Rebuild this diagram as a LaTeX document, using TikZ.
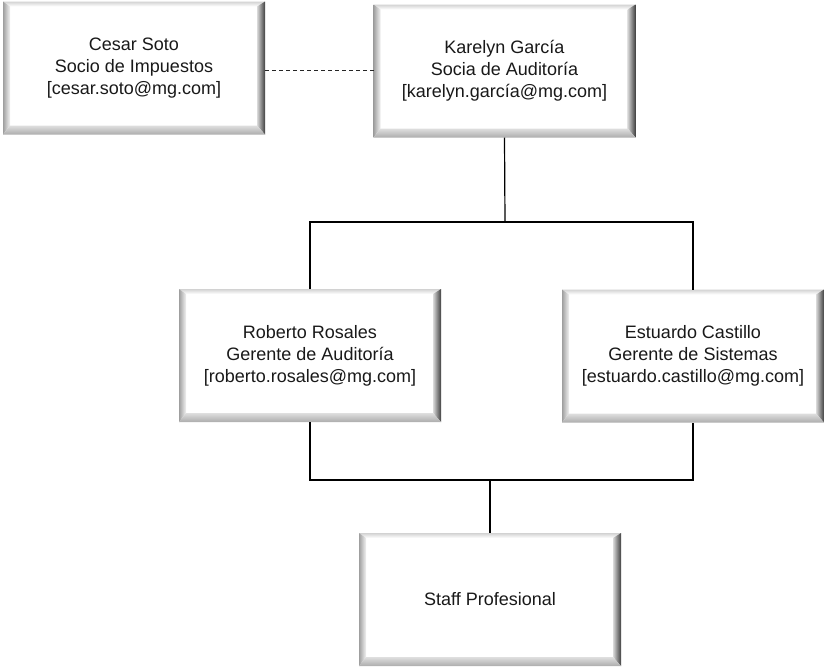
\documentclass[tikz,border=0pt]{standalone}
\usepackage{fontspec}
\setmainfont{Liberation Sans}
\usetikzlibrary{calc}
\tikzset{
  bevelbox/.style={
    rectangle, minimum width=262pt, minimum height=133pt, inner sep=0pt, outer sep=0pt,
    fill=white, align=center, font=\fontsize{18}{22}\selectfont, text=black!90,
    path picture={
      \coordinate (pnw) at (path picture bounding box.north west);
      \coordinate (pne) at (path picture bounding box.north east);
      \coordinate (psw) at (path picture bounding box.south west);
      \coordinate (pse) at (path picture bounding box.south east);
      \coordinate (inw) at ([xshift=7pt,yshift=-5pt]pnw);
      \coordinate (ine) at ([xshift=-8pt,yshift=-5pt]pne);
      \coordinate (isw) at ([xshift=7pt,yshift=9pt]psw);
      \coordinate (ise) at ([xshift=-8pt,yshift=9pt]pse);
      \shade[top color=gray!35, bottom color=white] (pnw) -- (pne) -- (ine) -- (inw) -- cycle;
      \shade[left color=gray!75, right color=gray!10] (pnw) -- (inw) -- (isw) -- (psw) -- cycle;
      \shade[left color=gray!30, right color=black!75] (pne) -- (pse) -- (ise) -- (ine) -- cycle;
      \shade[top color=gray!25, bottom color=gray!65] (psw) -- (isw) -- (ise) -- (pse) -- cycle;
    }
  },
  orgline/.style={line width=1.2pt, black},
  dashline/.style={line width=1pt, black!85, dash pattern=on 4pt off 3pt}
}
\begin{document}
\begin{tikzpicture}[x=1pt,y=-1pt]
\useasboundingbox (0,0) rectangle (825,667);
\node[bevelbox] (b1) at (134,68) {Cesar Soto\\Socio de Impuestos\\{[}cesar.soto@mg.com{]}};
\node[bevelbox] (b2) at (504.5,71) {Karelyn García\\Socia de Auditoría\\{[}karelyn.garcía@mg.com{]}};
\node[bevelbox] (b3) at (310,355.5) {Roberto Rosales\\Gerente de Auditoría\\{[}roberto.rosales@mg.com{]}};
\node[bevelbox] (b4) at (693,356) {Estuardo Castillo\\Gerente de Sistemas\\{[}estuardo.castillo@mg.com{]}};
\node[bevelbox] (b5) at (490,599.5) {Staff Profesional};
\coordinate (j1) at (505,222);
\coordinate (j2) at (490,480);
\coordinate (d1) at (b1.east |- 0,70);
\coordinate (d2) at (b2.west |- 0,70);
\draw[dashline] (d1) -- (d2);
\draw[orgline] (b2.south) -- (j1);
\draw[orgline] (b3.north) |- (j1) -| (b4.north);
\draw[orgline] (b3.south) |- (j2) -| (b4.south);
\draw[orgline] (j2) -- (b5.north);
\end{tikzpicture}
\end{document}
